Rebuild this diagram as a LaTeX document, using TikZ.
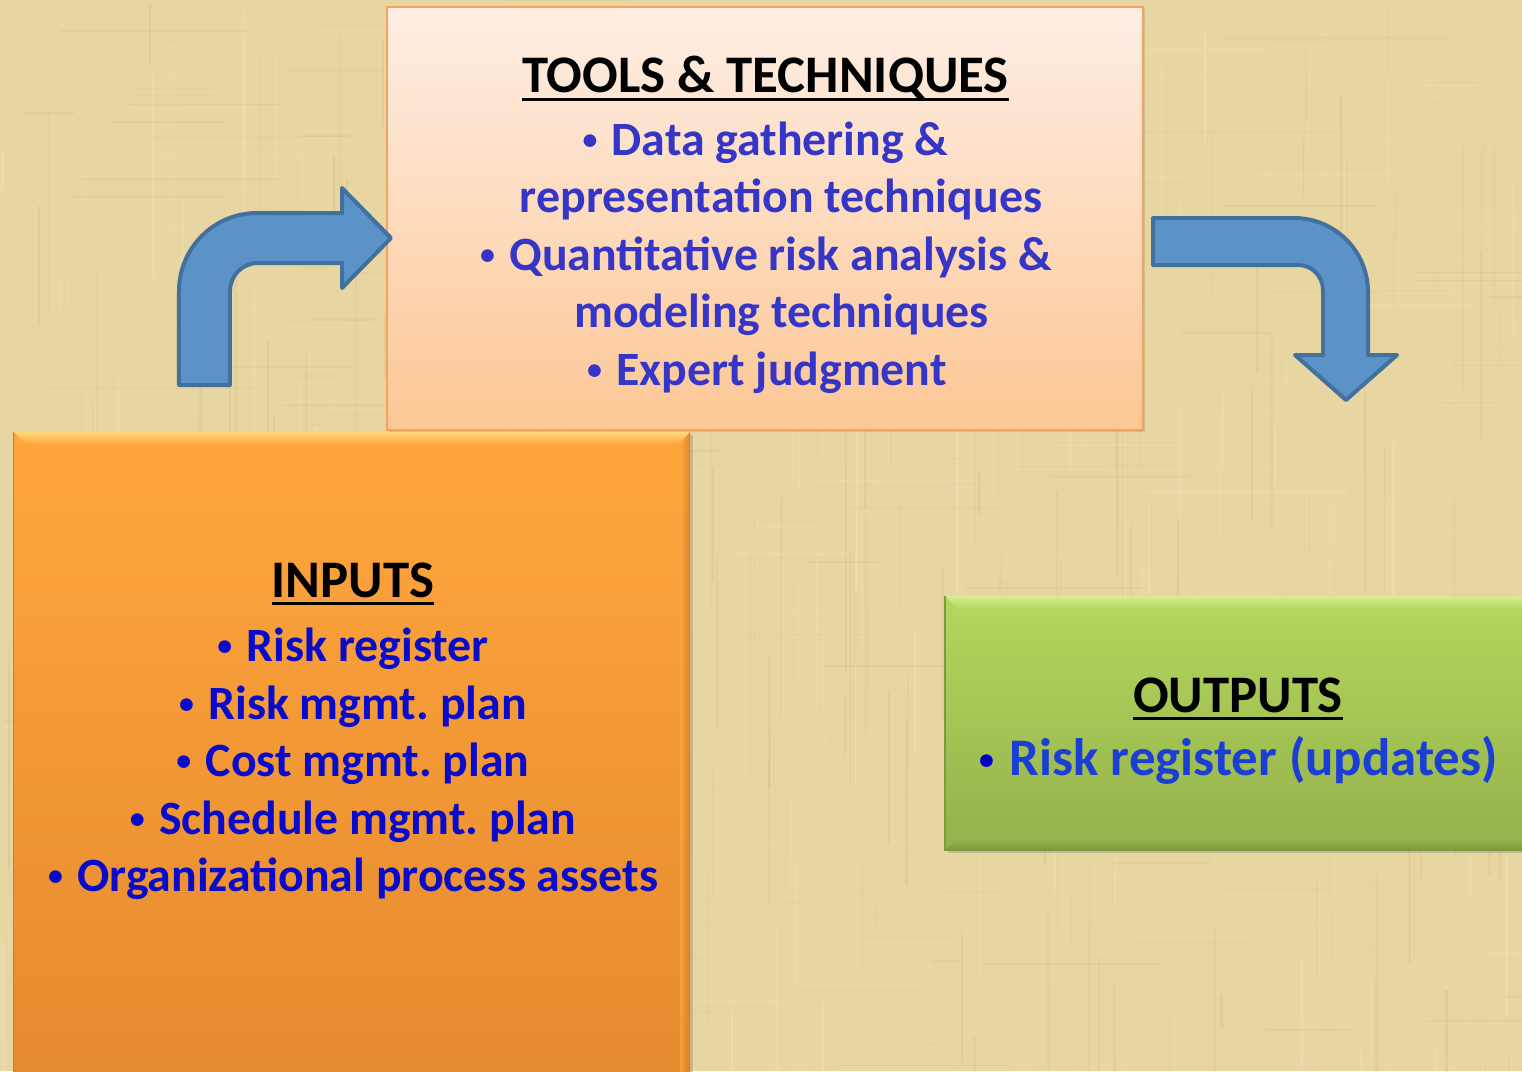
\documentclass[tikz,border=0pt]{standalone}
\usepackage{fontspec}
\setmainfont{Carlito}
\usetikzlibrary{shadows,calc}
\frenchspacing

\definecolor{bgbase}{HTML}{E8D6A2}
\definecolor{bgdark}{HTML}{CDB271}
\definecolor{bglight}{HTML}{F4E7C4}
\definecolor{toolstop}{HTML}{FEEEE4}
\definecolor{toolsbot}{HTML}{FCC795}
\definecolor{toolsedge}{HTML}{F5A35A}
\definecolor{intop}{HTML}{FFA73D}
\definecolor{inbot}{HTML}{E4892E}
\definecolor{inhl}{HTML}{FFD77A}
\definecolor{inedge}{HTML}{D07A25}
\definecolor{outtop}{HTML}{B4D75E}
\definecolor{outbot}{HTML}{94B14B}
\definecolor{outhl}{HTML}{D6EC94}
\definecolor{outedge}{HTML}{7F9A3C}
\definecolor{arrowfill}{HTML}{5B93C9}
\definecolor{arrowedge}{HTML}{41719C}
\definecolor{tooltext}{HTML}{3535C8}
\definecolor{intext}{HTML}{0A0ACB}
\definecolor{outtext}{HTML}{1B3ED6}
\definecolor{outdot}{HTML}{0000BF}

% small list bullet, raised to the middle of the lower-case letters
\newcommand\bul{\raisebox{6bp}{\fontsize{30}{30}\selectfont •}\hspace{0.3em}}

\tikzset{
  panel/.style={inner sep=0pt, outer sep=0pt},
  heading/.style={anchor=base, inner sep=0pt, text=black,
    font=\fontsize{53}{60}\selectfont\bfseries},
  toolline/.style={anchor=base, inner sep=0pt, text=tooltext,
    font=\fontsize{48}{56}\selectfont\bfseries},
  inline/.style={anchor=base, inner sep=0pt, text=intext,
    font=\fontsize{48}{56}\selectfont\bfseries},
  outline/.style={anchor=base, inner sep=0pt, text=outtext,
    font=\fontsize{53}{60}\selectfont\bfseries},
  uline/.style={line width=3bp, black},
  blockarrow/.style={fill=arrowfill, draw=arrowedge, line width=4bp, line join=round},
  softshadow/.style={drop shadow={shadow xshift=3bp, shadow yshift=-3bp, opacity=0.35}}
}

\begin{document}
\begin{tikzpicture}[x=1bp, y=-1bp]
  \useasboundingbox (0,0) rectangle (1522,1071);

  % parchment background
  \fill[bgbase] (0,0) rectangle (1522,1071);
  \begin{scope}
    \clip (0,0) rectangle (1522,1071);
    \pgfmathsetseed{11}
    \foreach \i in {1,...,520}{
      \pgfmathsetmacro\xx{rnd*1522}
      \pgfmathsetmacro\yy{rnd*1071}
      \pgfmathsetmacro\ll{30+rnd*220}
      \pgfmathsetmacro\ww{0.6+rnd*2.4}
      \pgfmathsetmacro\oo{0.08+rnd*0.20}
      \pgfmathsetmacro\cc{rnd}
      \ifdim\cc pt<0.5pt
        \draw[bgdark, line width=\ww bp, opacity=\oo] (\xx,\yy) -- ++(0,\ll);
      \else
        \draw[bglight, line width=\ww bp, opacity=\oo] (\xx,\yy) -- ++(0,\ll);
      \fi
    }
    \foreach \i in {1,...,360}{
      \pgfmathsetmacro\xx{rnd*1522}
      \pgfmathsetmacro\yy{rnd*1071}
      \pgfmathsetmacro\ll{30+rnd*200}
      \pgfmathsetmacro\ww{0.6+rnd*2.0}
      \pgfmathsetmacro\oo{0.06+rnd*0.18}
      \pgfmathsetmacro\cc{rnd}
      \ifdim\cc pt<0.5pt
        \draw[bgdark, line width=\ww bp, opacity=\oo] (\xx,\yy) -- ++(\ll,0);
      \else
        \draw[bglight, line width=\ww bp, opacity=\oo] (\xx,\yy) -- ++(\ll,0);
      \fi
    }
  \end{scope}

  % INPUTS panel
  \node[panel, top color=intop, bottom color=inbot, softshadow,
        minimum width=676bp, minimum height=660bp] (inputs) at (352,762) {};
  \shade[top color=inhl, bottom color=intop]
    (inputs.north west) -- (inputs.north east) -- ++(-12,12) -- ($(inputs.north west)+(12,12)$) -- cycle;
  \shade[left color=intop, right color=inedge, opacity=0.7]
    (inputs.north east) -- ++(-10,12) -- ++(0,700) -- ++(10,0) -- cycle;
  \draw[inedge, line width=1bp] (inputs.north west) -- (inputs.south west);

  % OUTPUTS panel
  \node[panel, top color=outtop, bottom color=outbot, softshadow,
        minimum width=595bp, minimum height=254bp] (outputs) at (1242.5,723) {};
  \shade[top color=outhl, bottom color=outtop]
    (outputs.north west) -- (outputs.north east) -- ++(-12,12) -- ($(outputs.north west)+(12,12)$) -- cycle;
  \shade[top color=outbot, bottom color=outedge]
    (outputs.south west) -- ($(outputs.south west)+(12,-10)$) -- ($(outputs.south east)+(-12,-10)$) -- (outputs.south east) -- cycle;
  \draw[outedge, line width=1.5bp] (outputs.north west) -- (outputs.south west) -- (outputs.south east);

  % TOOLS & TECHNIQUES panel
  \node[panel, top color=toolstop, bottom color=toolsbot, draw=toolsedge, line width=2bp,
        drop shadow={shadow xshift=2bp, shadow yshift=-2bp, opacity=0.25},
        minimum width=756bp, minimum height=423bp] (tools) at (765,218.5) {};

  % block arrows
  \coordinate (ltip) at ([xshift=4bp, yshift=-19.5bp]tools.west);
  \coordinate (rtip) at (1346,400);

  \begin{scope}[shift={(ltip)}]
    \path[blockarrow] (-212,147) -- (-212,53)
      .. controls (-212,10) and (-177,-25) .. (-134,-25)
      -- (-49,-25) -- (-49,-50) -- (0,0) -- (-49,50) -- (-49,25) -- (-133,25)
      .. controls (-148.5,25) and (-161,37.5) .. (-161,53)
      -- (-161,147) -- cycle;
  \end{scope}

  \begin{scope}[shift={(rtip)}]
    \path[blockarrow] (-193,-182) -- (-52,-182)
      .. controls (-11.1,-182) and (22,-148.9) .. (22,-108)
      -- (22,-45) -- (51,-45) -- (0,0) -- (-51,-45) -- (-23,-45) -- (-23,-110)
      .. controls (-23,-123.8) and (-34.2,-135) .. (-48,-135)
      -- (-193,-135) -- cycle;
  \end{scope}

  % tools text
  \node[heading] (th) at (765.5,92) {TOOLS \& TECHNIQUES};
  \draw[uline] ([yshift=-7bp]th.base west) -- ([yshift=-7bp]th.base east);
  \node[toolline] (t1) at (765.5,155) {\bul Data gathering \&};
  \node[toolline] (t2) at (781,212.5) {representation techniques};
  \node[toolline] (t3) at (766,270) {\bul Quantitative risk analysis \&};
  \node[toolline] (t4) at (781.5,327.5) {modeling techniques};
  \node[toolline] (t5) at (767,385) {\bul Expert judgment};

  % inputs text
  \node[heading] (ih) at (353,597) {INPUTS};
  \draw[uline] ([yshift=-6bp]ih.base west) -- ([yshift=-6bp]ih.base east);
  \node[inline] (i1) at (353,661) {\bul Risk register};
  \node[inline] (i2) at (353,719) {\bul Risk mgmt. plan};
  \node[inline] (i3) at (353,776) {\bul Cost mgmt. plan};
  \node[inline] (i4) at (353,834) {\bul Schedule mgmt. plan};
  \node[inline] (i5) at (353,891) {\bul Organizational process assets};

  % outputs text
  \node[heading] (oh) at (1238,712) {OUTPUTS};
  \draw[uline] ([yshift=-6bp]oh.base west) -- ([yshift=-6bp]oh.base east);
  \node[outline] (o1) at (1238.5,775) {{\color{outdot}\bul}Risk register (updates)};
\end{tikzpicture}
\end{document}
